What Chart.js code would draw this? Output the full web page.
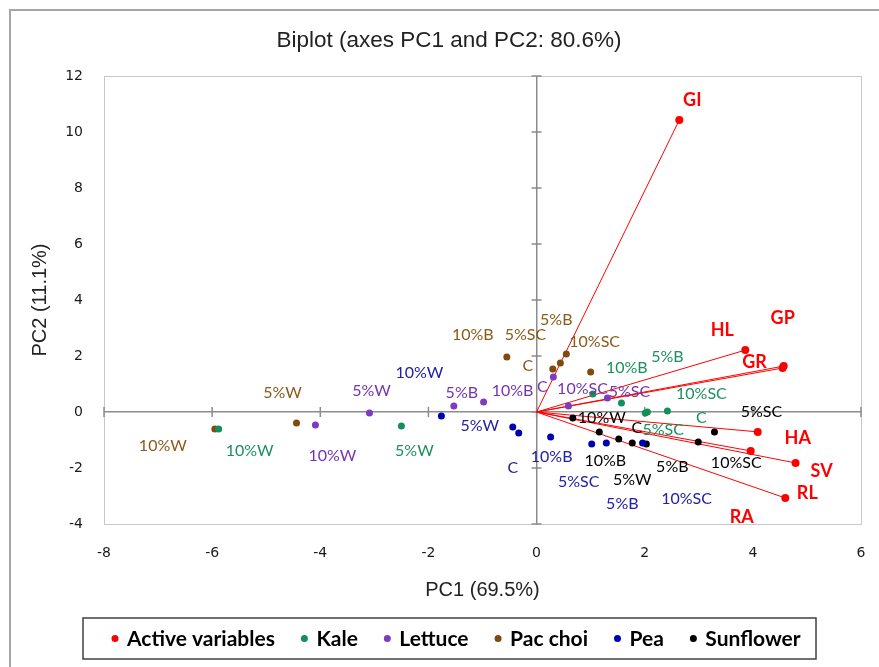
<!DOCTYPE html>
<html>
<head>
<meta charset="utf-8">
<script src="https://cdn.jsdelivr.net/npm/chart.js@4.4.1/dist/chart.umd.min.js"></script>
<style>
    body { margin: 0; background: #fff; }
    canvas { display: block; }
</style>
</head>
<body>
<canvas id="biplot" width="879" height="667"></canvas>
<script>
// active variables, drawn as vectors from the origin
const varNames = ['GI', 'HL', 'GP', 'GR', 'HA', 'RA', 'SV', 'RL']
const varX = [2.64, 3.86, 4.57, 4.55, 4.09, 3.96, 4.79, 4.60]
const varY = [10.43, 2.21, 1.64, 1.57, -0.71, -1.39, -1.82, -3.07]

// observations per crop
const kaleNames = ['10%W', '5%W', '10%B', '5%B', '10%SC', 'C', '5%SC']
const kaleX = [-5.88, -2.50, 1.04, 1.57, 2.42, 2.05, 2.01]
const kaleY = [-0.61, -0.50, 0.64, 0.32, 0.04, 0.00, -0.04]

const lettuceNames = ['10%W', '5%W', '5%B', '10%B', 'C', '10%SC', '5%SC']
const lettuceX = [-4.09, -3.09, -1.53, -0.98, 0.31, 0.59, 1.31]
const lettuceY = [-0.46, -0.04, 0.21, 0.36, 1.25, 0.21, 0.50]

const pacchoiNames = ['10%W', '5%W', '10%B', 'C', '5%SC', '5%B', '10%SC']
const pacchoiX = [-5.95, -4.44, -0.55, 0.30, 0.44, 0.55, 1.00]
const pacchoiY = [-0.61, -0.39, 1.96, 1.54, 1.75, 2.07, 1.43]

const peaNames = ['10%W', '5%W', 'C', '10%B', '5%SC', '5%B', '10%SC']
const peaX = [-1.76, -0.44, -0.33, 0.26, 1.02, 1.29, 1.96]
const peaY = [-0.14, -0.54, -0.75, -0.89, -1.14, -1.11, -1.11]

const sunflowerNames = ['10%W', '10%B', 'C', '5%W', '5%B', '10%SC', '5%SC']
const sunflowerX = [0.67, 1.16, 1.52, 1.77, 2.03, 2.99, 3.29]
const sunflowerY = [-0.21, -0.71, -0.96, -1.11, -1.14, -1.07, -0.71]

// axes
const xRange = [-8, 6]
const yRange = [-4, 12]
const tickStep = 2

// label nudges in pixels (dx, dy) from each point
const varShift = [[13, -20], [-23, -20], [-1, -48], [-28, -6], [40, 6], [-9, 66], [26, 8], [22, -5]]
const kaleShift = [[31, 22], [13, 25], [34, -26], [46, -46], [34, -17], [54, 6], [18, 17]]
const lettuceShift = [[17, 31], [2, -22], [8, -13], [29, -11], [-11, 10], [14, -17], [22, -6]]
const pacchoiShift = [[-52, 17], [-14, -30], [-34, -22], [-25, -3], [-35, -28], [-10, -34], [4, -30]]
const peaShift = [[-22, -43], [-33, -1], [-6, 35], [1, 20], [-13, 38], [16, 61], [44, 56]]
const sunflowerShift = [[29, 0], [6, 29], [18, -11], [0, 37], [26, 23], [38, 21], [47, -20]]

function toPoints(xs, ys) {
    return xs.map((x, i) => ({ x: x, y: ys[i] }))
}

function makeSeries(label, xs, ys, names, shift, color, textColor, radius) {
    return {
        label: label,
        data: toPoints(xs, ys),
        names: names,
        shift: shift,
        textColor: textColor,
        backgroundColor: color,
        borderColor: color,
        borderWidth: 0,
        pointRadius: radius,
        pointHoverRadius: radius
    }
}

const datasets = [
    makeSeries('Active variables', varX, varY, varNames, varShift, '#ff0000', '#ff0000', 4),
    makeSeries('Kale', kaleX, kaleY, kaleNames, kaleShift, '#13905a', '#1a9060', 3.5),
    makeSeries('Lettuce', lettuceX, lettuceY, lettuceNames, lettuceShift, '#7d3cbd', '#7535b0', 3.5),
    makeSeries('Pac choi', pacchoiX, pacchoiY, pacchoiNames, pacchoiShift, '#7f4a0a', '#8b5a1a', 3.5),
    makeSeries('Pea', peaX, peaY, peaNames, peaShift, '#0000b0', '#2020a8', 3.5),
    makeSeries('Sunflower', sunflowerX, sunflowerY, sunflowerNames, sunflowerShift, '#000000', '#000000', 3.5)
]

const axisGray = '#8c8c8c'

const biplotDecor = {
    id: 'biplotDecor',
    beforeDraw(chart) {
        let ctx = chart.ctx
        let area = chart.chartArea
        ctx.save()
        // outer frame (runs off the right and bottom edges)
        ctx.strokeStyle = '#a6a6a6'
        ctx.lineWidth = 2
        ctx.strokeRect(10, 10, chart.width + 20, chart.height + 20)
        // title
        ctx.fillStyle = '#222'
        ctx.font = '22.5px "Liberation Sans", Arial, sans-serif'
        ctx.textAlign = 'center'
        ctx.textBaseline = 'middle'
        ctx.fillText('Biplot (axes PC1 and PC2: 80.6%)', 449, 41)
        // plot frame
        ctx.strokeStyle = '#c8c8c8'
        ctx.lineWidth = 1
        ctx.strokeRect(area.left + 0.5, area.top + 0.5, area.width, area.height)
        ctx.restore()
    },
    beforeDatasetsDraw(chart) {
        let ctx = chart.ctx
        let xs = chart.scales.x
        let ys = chart.scales.y
        let x0 = xs.getPixelForValue(0)
        let y0 = ys.getPixelForValue(0)
        ctx.save()
        // small tick marks across the zero axes
        ctx.strokeStyle = axisGray
        ctx.lineWidth = 1.5
        xs.ticks.forEach(t => {
            let px = xs.getPixelForValue(t.value)
            ctx.beginPath()
            ctx.moveTo(px, y0 - 5)
            ctx.lineTo(px, y0 + 5)
            ctx.stroke()
        })
        ys.ticks.forEach(t => {
            let py = ys.getPixelForValue(t.value)
            ctx.beginPath()
            ctx.moveTo(x0 - 5, py)
            ctx.lineTo(x0 + 5, py)
            ctx.stroke()
        })
        // vectors of the active variables
        ctx.strokeStyle = '#ff0000'
        ctx.lineWidth = 1
        chart.getDatasetMeta(0).data.forEach(pt => {
            ctx.beginPath()
            ctx.moveTo(x0, y0)
            ctx.lineTo(pt.x, pt.y)
            ctx.stroke()
        })
        ctx.restore()
    },
    afterDatasetsDraw(chart) {
        let ctx = chart.ctx
        ctx.save()
        ctx.textAlign = 'center'
        ctx.textBaseline = 'middle'
        chart.data.datasets.forEach((ds, i) => {
            ctx.fillStyle = ds.textColor
            ctx.font = i === 0 ? 'bold 18px Lato, sans-serif' : '16px Lato, sans-serif'
            chart.getDatasetMeta(i).data.forEach((pt, j) => {
                ctx.fillText(ds.names[j], pt.x + ds.shift[j][0], pt.y + ds.shift[j][1])
            })
        })
        ctx.restore()
    },
    afterDraw(chart) {
        // boxed legend under the axis title
        let ctx = chart.ctx
        let box = { left: 83, top: 618, width: 733, height: 41 }
        ctx.save()
        ctx.strokeStyle = '#404040'
        ctx.lineWidth = 1.5
        ctx.strokeRect(box.left, box.top, box.width, box.height)
        ctx.font = 'bold 21px Lato, sans-serif'
        ctx.textBaseline = 'middle'
        let dot = 3.5, gap = 8.5, space = 26
        let x = box.left + 28.5
        let cy = box.top + box.height / 2
        chart.data.datasets.forEach(ds => {
            ctx.fillStyle = ds.backgroundColor
            ctx.beginPath()
            ctx.arc(x + dot, cy, dot, 0, Math.PI * 2)
            ctx.fill()
            x += dot * 2 + gap
            ctx.fillStyle = '#000'
            ctx.fillText(ds.label, x, cy + 1)
            x += ctx.measureText(ds.label).width + space
        })
        ctx.restore()
    }
}

const tickFont = { family: '"DejaVu Sans", sans-serif', size: 14 }
const titleFont = { family: '"Liberation Sans", Arial, sans-serif', size: 20 }

function zeroLine(context) {
    if(context.tick && context.tick.value === 0) return axisGray
    return 'rgba(0,0,0,0)'
}

new Chart(document.getElementById('biplot'), {
    type: 'scatter',
    data: { datasets: datasets },
    options: {
        responsive: false,
        animation: false,
        layout: { padding: { top: 76, right: 18, bottom: 63, left: 0 } },
        plugins: {
            legend: { display: false },
            tooltip: { enabled: false }
        },
        scales: {
            x: {
                type: 'linear',
                min: xRange[0],
                max: xRange[1],
                ticks: { stepSize: tickStep, padding: 21, color: '#1a1a1a', font: tickFont },
                grid: { color: zeroLine, lineWidth: 1.5, drawTicks: false },
                border: { display: false },
                title: { display: true, text: 'PC1 (69.5%)', color: '#222', font: titleFont, padding: { top: 0, bottom: 2 } },
                afterFit: scale => {
                    scale.height = 80
                    scale.paddingLeft = 0
                    scale.paddingRight = 0
                }
            },
            y: {
                type: 'linear',
                min: yRange[0],
                max: yRange[1],
                ticks: { stepSize: tickStep, padding: 21, color: '#1a1a1a', font: tickFont },
                grid: { color: zeroLine, lineWidth: 1.5, drawTicks: false },
                border: { display: false },
                title: { display: true, text: 'PC2 (11.1%)', color: '#222', font: titleFont, padding: { top: 28, bottom: 0 } },
                afterFit: scale => {
                    scale.width = 104
                    scale.paddingTop = 0
                    scale.paddingBottom = 0
                }
            }
        }
    },
    plugins: [biplotDecor]
})
</script>
</body>
</html>
